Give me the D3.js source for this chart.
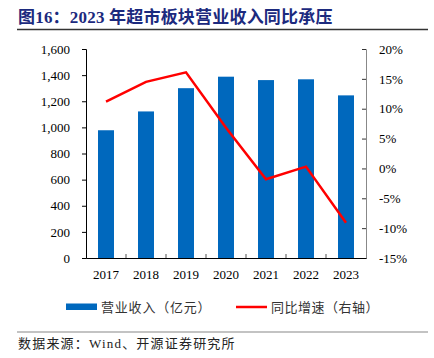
<!DOCTYPE html>
<html><head><meta charset="utf-8">
<script src="https://cdn.jsdelivr.net/npm/d3@7"></script>
<style>
body{margin:0;background:#fff;}
text{font-family:"Liberation Serif","Noto Sans CJK SC",serif;}
</style></head>
<body><svg id="c" width="434" height="358"></svg>
<script>
const years = ["2017","2018","2019","2020","2021","2022","2023"];
const revenue = [978, 1122, 1300, 1388, 1362, 1368, 1245];
const growth = [11.2, 14.5, 16.1, 6.8, -1.8, 0.3, -9.1];
const leftTicks = [0,200,400,600,800,1000,1200,1400,1600];
const rightTicks = [-15,-10,-5,0,5,10,15,20];

const svg = d3.select("#c");
const cjk = '"Noto Sans CJK SC",sans-serif';
const L = 86, R = 366, T = 49, B = 258;

// title
svg.append("text").attr("x",18).attr("y",23).attr("font-size",17).attr("font-weight","bold")
  .attr("fill","#1c2a7e").attr("letter-spacing",0.2).text("图16：2023 年超市板块营业收入同比承压");
svg.append("line").attr("x1",17).attr("x2",428).attr("y1",29.5).attr("y2",29.5)
  .attr("stroke","#333").attr("stroke-width",1.5);

const x = d3.scaleBand().domain(years).range([L,R]).paddingInner(0).paddingOuter(0);
const yL = d3.scaleLinear().domain([0,1600]).range([B,T]);
const yR = d3.scaleLinear().domain([-15,20]).range([B,T]);

const bw = x.bandwidth()*0.4;
svg.append("g").selectAll("rect").data(revenue).join("rect")
  .attr("x",(d,i)=>x(years[i])+x.bandwidth()/2-bw/2)
  .attr("width",bw)
  .attr("y",d=>yL(d)).attr("height",d=>B-yL(d))
  .attr("fill","#0068bd");

// left axis
const gl = svg.append("g").attr("transform",`translate(${L},0)`)
  .call(d3.axisLeft(yL).tickValues(leftTicks).tickSize(4).tickPadding(12).tickFormat(d3.format(",")));
gl.select(".domain").attr("stroke","#000");
gl.selectAll("text").attr("font-size",13).attr("fill","#000").attr("font-family","Liberation Serif");

// right axis
const gr = svg.append("g").attr("transform",`translate(${R},0)`)
  .call(d3.axisRight(yR).tickValues(rightTicks).tickSize(-4).tickPadding(13).tickFormat(d=>d+"%"));
gr.select(".domain").attr("stroke","#888");
gr.selectAll(".tick line").attr("stroke","#333");
gr.selectAll("text").attr("font-size",13).attr("fill","#000").attr("font-family","Liberation Serif");

// bottom axis
const gb = svg.append("g").attr("transform",`translate(0,${B})`)
  .call(d3.axisBottom(x).tickSize(0).tickPadding(12));
gb.select(".domain").attr("stroke","#000").attr("stroke-width",1.2);
gb.selectAll("text").attr("font-size",13).attr("fill","#000").attr("font-family","Liberation Serif");
svg.append("g").selectAll("line").data(years.slice(1)).join("line")
  .attr("x1",d=>x(d)).attr("x2",d=>x(d)).attr("y1",B).attr("y2",B-4).attr("stroke","#555");

// line
const line = d3.line().x((d,i)=>x(years[i])+x.bandwidth()/2).y(d=>yR(d));
svg.append("path").datum(growth).attr("d",line).attr("fill","none")
  .attr("stroke","#ff0000").attr("stroke-width",2.5);

// legend
svg.append("rect").attr("x",66).attr("y",303.5).attr("width",31).attr("height",6.5).attr("fill","#0068bd");
svg.append("text").attr("x",101).attr("y",312).attr("font-size",13).attr("font-family",cjk)
  .attr("fill","#333").attr("letter-spacing",0.8).text("营业收入（亿元）");
svg.append("line").attr("x1",236).attr("x2",267).attr("y1",307).attr("y2",307)
  .attr("stroke","#ff0000").attr("stroke-width",2.5);
svg.append("text").attr("x",271).attr("y",312).attr("font-size",13).attr("font-family",cjk)
  .attr("fill","#333").attr("letter-spacing",0.5).text("同比增速（右轴）");

// footer
svg.append("line").attr("x1",17).attr("x2",428).attr("y1",332).attr("y2",332)
  .attr("stroke","#888").attr("stroke-width",1.2);
svg.append("text").attr("x",18).attr("y",348).attr("font-size",13).attr("fill","#222")
  .attr("letter-spacing",1.2)
  .attr("font-family",'"Liberation Serif","Noto Sans CJK SC",serif').text("数据来源：Wind、开源证券研究所");
</script></body></html>
